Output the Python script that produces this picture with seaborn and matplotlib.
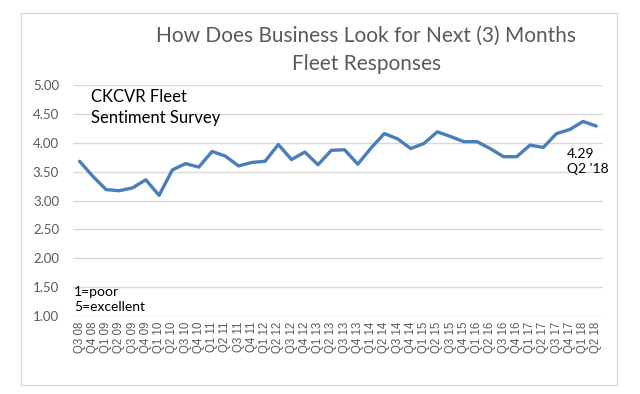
import matplotlib
matplotlib.use("Agg")
import matplotlib.pyplot as plt
import pandas as pd
import seaborn as sns
from matplotlib.patches import Rectangle

quarters = [
    "Q3 08", "Q4 08", "Q1 09", "Q2 09", "Q3 09", "Q4 09", "Q1 10", "Q2 10",
    "Q3 10", "Q4 10", "Q1 11", "Q2 11", "Q3 11", "Q4 11", "Q1 12", "Q2 12",
    "Q3 12", "Q4 12", "Q1 13", "Q2 13", "Q3 13", "Q4 13", "Q1 14", "Q2 14",
    "Q3 14", "Q4 14", "Q1 15", "Q2 15", "Q3 15", "Q4 15", "Q1 16", "Q2 16",
    "Q3 16", "Q4 16", "Q1 17", "Q2 17", "Q3 17", "Q4 17", "Q1 18", "Q2 18",
]
sentiment = [
    3.68, 3.42, 3.19, 3.17, 3.22, 3.36, 3.09, 3.53,
    3.64, 3.58, 3.85, 3.77, 3.60, 3.66, 3.68, 3.97,
    3.71, 3.84, 3.62, 3.87, 3.88, 3.63, 3.91, 4.16,
    4.07, 3.90, 3.99, 4.19, 4.11, 4.02, 4.02, 3.90,
    3.76, 3.76, 3.96, 3.92, 4.16, 4.23, 4.37, 4.29,
]
y_ticks = [1.00, 1.50, 2.00, 2.50, 3.00, 3.50, 4.00, 4.50, 5.00]

df = pd.DataFrame({"quarter": quarters, "score": sentiment})
df["pos"] = range(len(df))

sns.set_theme(style="white")
plt.rcParams["font.family"] = ["Lato", "DejaVu Sans"]

fig = plt.figure(figsize=(6.4, 3.94), dpi=100)
ax = fig.add_axes([0.114, 0.198, 0.828, 0.586])

# outer chart frame
fig.patches.append(Rectangle((0.033, 0.023), 0.931, 0.944, transform=fig.transFigure,
                             fill=False, edgecolor="#d9d9d9", linewidth=1))

sns.lineplot(data=df, x="pos", y="score", color="#4a7ebb", linewidth=2.4, ax=ax)

ax.set_ylim(1, 5)
ax.set_xlim(-0.5, len(quarters) - 0.5)
ax.set_yticks(y_ticks)
ax.set_yticklabels([f"{v:.2f}" for v in y_ticks], color="#595959", fontsize=9.5)
ax.set_xticks(df["pos"])
ax.set_xticklabels(quarters, rotation=90, fontsize=8.3, color="#595959",
                   family="Liberation Sans")
ax.tick_params(axis="y", length=0, pad=10)
ax.tick_params(axis="x", length=0, pad=4)
ax.yaxis.grid(True, color="#d9d9d9", linewidth=1)
ax.xaxis.grid(False)
for s in ax.spines.values():
    s.set_visible(False)
ax.set_xlabel("")
ax.set_ylabel("")

fig.text(0.572, 0.812, "How Does Business Look for Next (3) Months\nFleet Responses",
         ha="center", va="bottom", fontsize=15, color="#595959", linespacing=1.5)

fig.text(0.142, 0.68, "CKCVR Fleet\nSentiment Survey", ha="left", va="bottom",
         fontsize=12, color="black", linespacing=1.4)
fig.text(0.116, 0.205, "1=poor\n5=excellent", ha="left", va="bottom",
         fontsize=10, color="black", linespacing=1.3)
fig.text(0.886, 0.555, "4.29\nQ2 '18", ha="left", va="bottom",
         fontsize=10, color="black", linespacing=1.3)

fig.savefig("out.png", dpi=100)
